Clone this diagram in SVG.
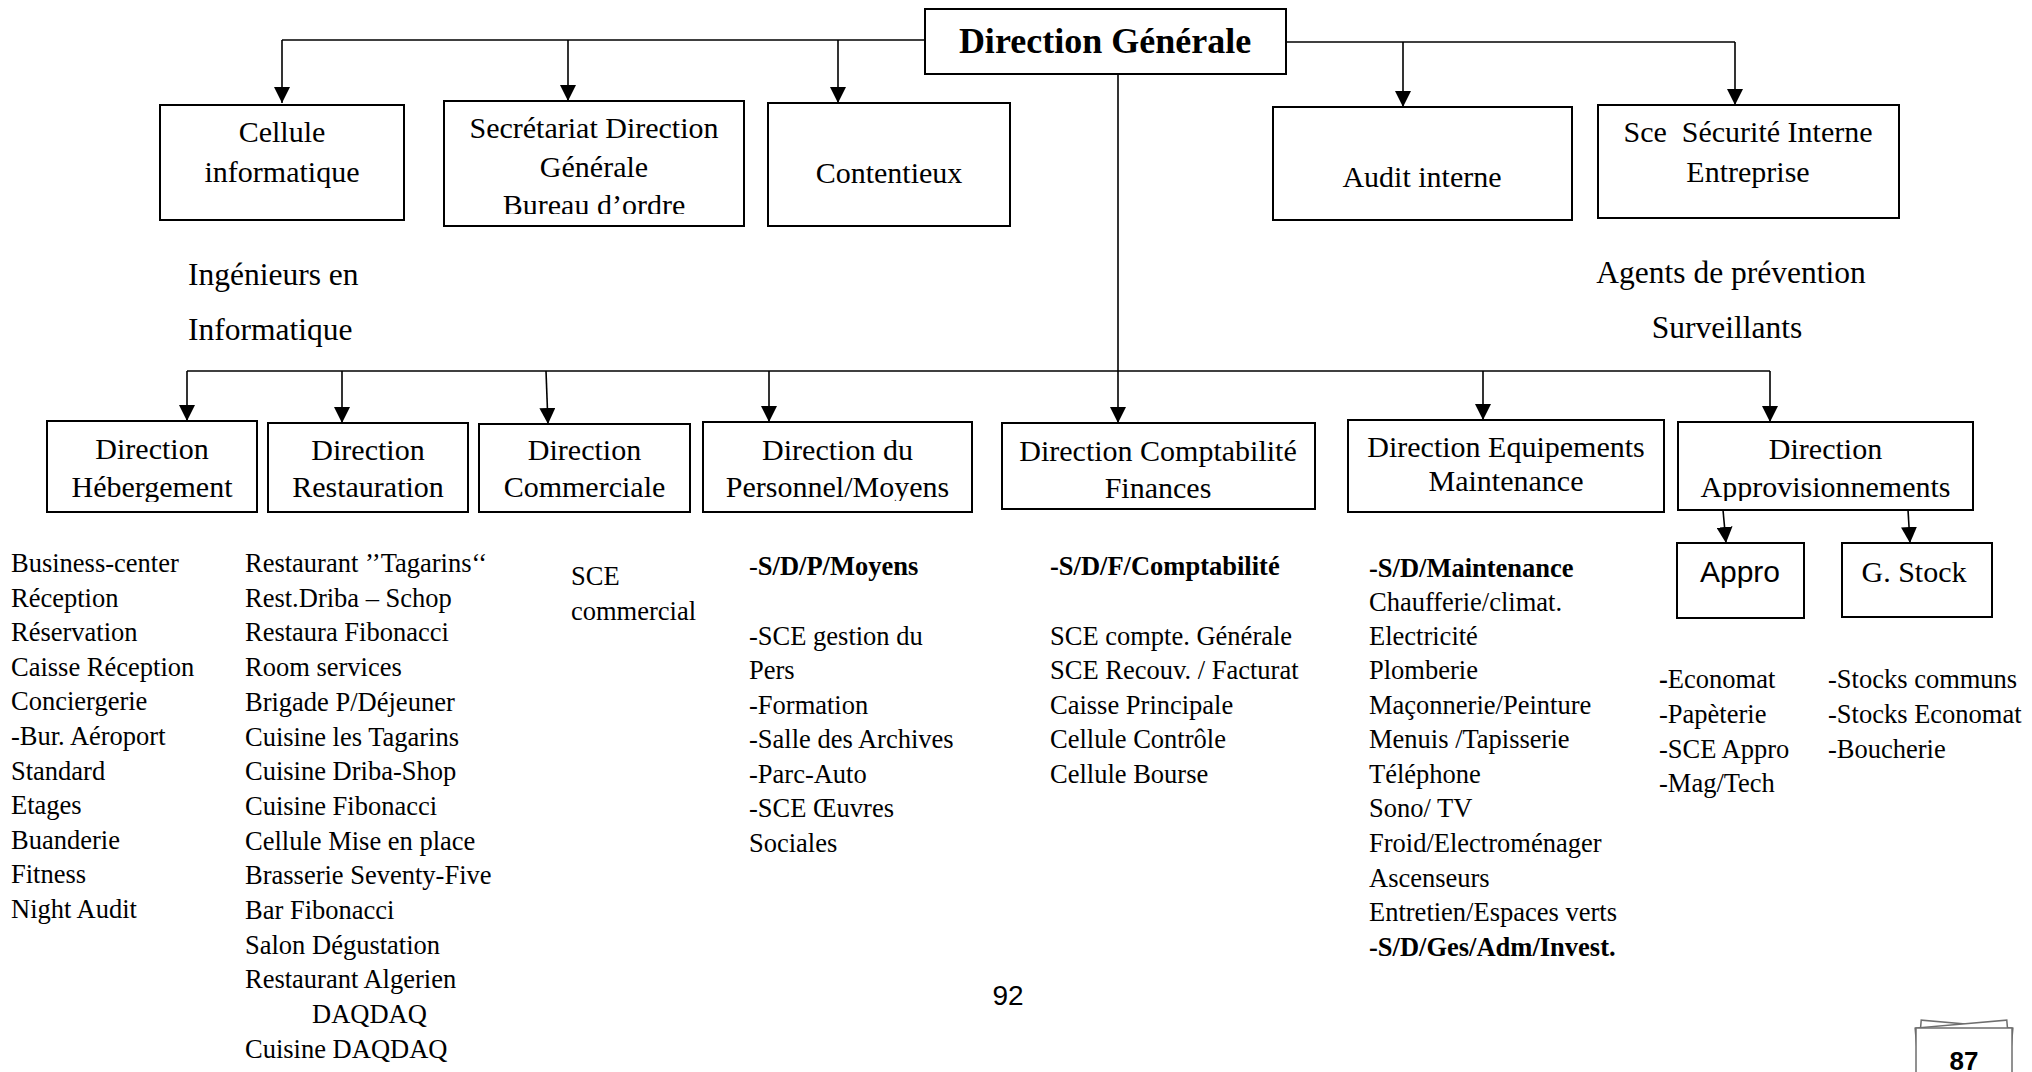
<svg xmlns="http://www.w3.org/2000/svg" width="2032" height="1072" viewBox="0 0 2032 1072">
  <style>
    .box { fill: #fff; stroke: #000; stroke-width: 2; }
    .conn { fill: none; stroke: #000; stroke-width: 1.6; }
    .t { font-family: "Liberation Serif", "Times New Roman", serif; font-size: 30px; text-anchor: middle; fill: #000; }
    .dg { font-weight: bold; font-size: 36px; }
    .lab { font-family: "Liberation Serif", "Times New Roman", serif; font-size: 31.5px; fill: #000; }
    .li { font-family: "Liberation Serif", "Times New Roman", serif; font-size: 26.5px; fill: #000; }
    .b { font-weight: bold; }
    .n { font-weight: normal; }
    .sans { font-family: "Liberation Sans", Arial, sans-serif; }
    .sheet { fill: #fff; stroke: #6e6e6e; stroke-width: 1.5; }
  </style>
  <defs>
    <marker id="arrow" viewBox="0 0 16 16" refX="16" refY="8" markerWidth="16" markerHeight="16" markerUnits="userSpaceOnUse" orient="auto">
      <path d="M0,0 L16,8 L0,16 Z" fill="#000"/>
    </marker>
    <clipPath id="clip-sec"><rect x="444" y="101" width="300" height="113"/></clipPath>
    <clipPath id="clip-heb"><rect x="47" y="421" width="210" height="81"/></clipPath>
    <clipPath id="clip-pers"><rect x="703" y="422" width="269" height="79"/></clipPath>
    <clipPath id="clip-appr"><rect x="1678" y="422" width="295" height="79"/></clipPath>
  </defs>

  <rect width="2032" height="1072" fill="#fff"/>

  <!-- connectors -->
  <g id="connectors" class="conn">
    <path d="M925,40 H282"/>
    <path d="M1286,42 H1735"/>
    <path d="M282,40 V103" marker-end="url(#arrow)"/>
    <path d="M568,40 V101" marker-end="url(#arrow)"/>
    <path d="M838,40 V103" marker-end="url(#arrow)"/>
    <path d="M1403,42 V107" marker-end="url(#arrow)"/>
    <path d="M1735,42 V105" marker-end="url(#arrow)"/>
    <path d="M1118,74 V423" marker-end="url(#arrow)"/>
    <path d="M187,371 H1770"/>
    <path d="M187,371 V421" marker-end="url(#arrow)"/>
    <path d="M342,371 V423" marker-end="url(#arrow)"/>
    <path d="M546,371 L548,424" marker-end="url(#arrow)"/>
    <path d="M769,371 V422" marker-end="url(#arrow)"/>
    <path d="M1483,371 V420" marker-end="url(#arrow)"/>
    <path d="M1770,371 V422" marker-end="url(#arrow)"/>
    <path d="M1723,510 L1726,543" marker-end="url(#arrow)"/>
    <path d="M1908,510 L1910,543" marker-end="url(#arrow)"/>
  </g>

  <!-- top level -->
  <g id="direction-generale">
    <rect class="box" x="925" y="9" width="361" height="65"/>
    <text class="t dg" x="1105" y="53">Direction Générale</text>
  </g>

  <!-- attached cells -->
  <g id="cellule-informatique">
    <rect class="box" x="160" y="105" width="244" height="115"/>
    <text class="t" x="282" y="142">Cellule</text>
    <text class="t" x="282" y="182">informatique</text>
  </g>
  <g id="secretariat">
    <rect class="box" x="444" y="101" width="300" height="125"/>
    <g clip-path="url(#clip-sec)">
      <text class="t" x="594" y="138">Secrétariat Direction</text>
      <text class="t" x="594" y="177">Générale</text>
      <text class="t" x="594" y="215">Bureau d’ordre</text>
    </g>
  </g>
  <g id="contentieux">
    <rect class="box" x="768" y="103" width="242" height="123"/>
    <text class="t" x="889" y="183">Contentieux</text>
  </g>
  <g id="audit-interne">
    <rect class="box" x="1273" y="107" width="299" height="113"/>
    <text class="t" x="1422" y="187">Audit interne</text>
  </g>
  <g id="securite-interne">
    <rect class="box" x="1598" y="105" width="301" height="113"/>
    <text class="t" x="1748" y="142" xml:space="preserve">Sce  Sécurité Interne</text>
    <text class="t" x="1748" y="182">Entreprise</text>
  </g>

  <g id="staff-informatique">
    <text class="lab" x="188" y="285">Ingénieurs en</text>
    <text class="lab" x="188" y="340">Informatique</text>
  </g>
  <g id="staff-securite">
    <text class="lab" x="1731" y="283" text-anchor="middle">Agents de prévention</text>
    <text class="lab" x="1727" y="338" text-anchor="middle">Surveillants</text>
  </g>

  <!-- directions -->
  <g id="dir-hebergement">
    <rect class="box" x="47" y="421" width="210" height="91"/>
    <g clip-path="url(#clip-heb)">
      <text class="t" x="152" y="459">Direction</text>
      <text class="t" x="152" y="497">Hébergement</text>
    </g>
  </g>
  <g id="dir-restauration">
    <rect class="box" x="268" y="423" width="200" height="89"/>
    <text class="t" x="368" y="460">Direction</text>
    <text class="t" x="368" y="497">Restauration</text>
  </g>
  <g id="dir-commerciale">
    <rect class="box" x="479" y="424" width="211" height="88"/>
    <text class="t" x="584.5" y="460">Direction</text>
    <text class="t" x="584.5" y="497">Commerciale</text>
  </g>
  <g id="dir-personnel">
    <rect class="box" x="703" y="422" width="269" height="90"/>
    <g clip-path="url(#clip-pers)">
      <text class="t" x="837.5" y="460">Direction du</text>
      <text class="t" x="837.5" y="497">Personnel/Moyens</text>
    </g>
  </g>
  <g id="dir-comptabilite">
    <rect class="box" x="1002" y="423" width="313" height="86"/>
    <text class="t" x="1158" y="461">Direction Comptabilité</text>
    <text class="t" x="1158" y="498">Finances</text>
  </g>
  <g id="dir-equipements">
    <rect class="box" x="1348" y="420" width="316" height="92"/>
    <text class="t" x="1506" y="457">Direction Equipements</text>
    <text class="t" x="1506" y="491">Maintenance</text>
  </g>
  <g id="dir-approvisionnements">
    <rect class="box" x="1678" y="422" width="295" height="88"/>
    <g clip-path="url(#clip-appr)">
      <text class="t" x="1825.5" y="459">Direction</text>
      <text class="t" x="1825.5" y="497">Approvisionnements</text>
    </g>
  </g>

  <g id="appro">
    <rect class="box" x="1677" y="543" width="127" height="75"/>
    <text class="t sans" x="1740" y="582" font-size="28">Appro</text>
  </g>
  <g id="g-stock">
    <rect class="box" x="1842" y="543" width="150" height="74"/>
    <text class="t" x="1914" y="582">G. Stock</text>
  </g>

  <!-- service lists -->
  <g id="list-hebergement">
    <text class="li" x="11" y="572">Business-center</text>
    <text class="li" x="11" y="607">Réception</text>
    <text class="li" x="11" y="641">Réservation</text>
    <text class="li" x="11" y="676">Caisse Réception</text>
    <text class="li" x="11" y="710">Conciergerie</text>
    <text class="li" x="11" y="745">-Bur. Aéroport</text>
    <text class="li" x="11" y="780">Standard</text>
    <text class="li" x="11" y="814">Etages</text>
    <text class="li" x="11" y="849">Buanderie</text>
    <text class="li" x="11" y="883">Fitness</text>
    <text class="li" x="11" y="918">Night Audit</text>
  </g>
  <g id="list-restauration">
    <text class="li" x="245" y="572">Restaurant ’’Tagarins‘‘</text>
    <text class="li" x="245" y="607">Rest.Driba – Schop</text>
    <text class="li" x="245" y="641">Restaura Fibonacci</text>
    <text class="li" x="245" y="676">Room services</text>
    <text class="li" x="245" y="711">Brigade P/Déjeuner</text>
    <text class="li" x="245" y="746">Cuisine les Tagarins</text>
    <text class="li" x="245" y="780">Cuisine Driba-Shop</text>
    <text class="li" x="245" y="815">Cuisine Fibonacci</text>
    <text class="li" x="245" y="850">Cellule Mise en place</text>
    <text class="li" x="245" y="884">Brasserie Seventy-Five</text>
    <text class="li" x="245" y="919">Bar Fibonacci</text>
    <text class="li" x="245" y="954">Salon Dégustation</text>
    <text class="li" x="245" y="988">Restaurant Algerien</text>
    <text class="li" x="312" y="1023">DAQDAQ</text>
    <text class="li" x="245" y="1058">Cuisine DAQDAQ</text>
  </g>
  <g id="list-commerciale">
    <text class="li" x="571" y="585">SCE</text>
    <text class="li" x="571" y="620">commercial</text>
  </g>
  <g id="list-personnel">
    <text class="li b" x="749" y="575"><tspan class="n">-</tspan>S/D/P/Moyens</text>
    <text class="li" x="749" y="645">-SCE gestion du</text>
    <text class="li" x="749" y="679">Pers</text>
    <text class="li" x="749" y="714">-Formation</text>
    <text class="li" x="749" y="748">-Salle des Archives</text>
    <text class="li" x="749" y="783">-Parc-Auto</text>
    <text class="li" x="749" y="817">-SCE Œuvres</text>
    <text class="li" x="749" y="852">Sociales</text>
  </g>
  <g id="list-comptabilite">
    <text class="li b" x="1050" y="575">-S/D/F/Comptabilité</text>
    <text class="li" x="1050" y="645">SCE compte. Générale</text>
    <text class="li" x="1050" y="679">SCE Recouv. / Facturat</text>
    <text class="li" x="1050" y="714">Caisse Principale</text>
    <text class="li" x="1050" y="748">Cellule Contrôle</text>
    <text class="li" x="1050" y="783">Cellule Bourse</text>
  </g>
  <g id="list-maintenance">
    <text class="li b" x="1369" y="577">-S/D/Maintenance</text>
    <text class="li" x="1369" y="611">Chaufferie/climat.</text>
    <text class="li" x="1369" y="645">Electricité</text>
    <text class="li" x="1369" y="679">Plomberie</text>
    <text class="li" x="1369" y="714">Maçonnerie/Peinture</text>
    <text class="li" x="1369" y="748">Menuis /Tapisserie</text>
    <text class="li" x="1369" y="783">Téléphone</text>
    <text class="li" x="1369" y="817">Sono/ TV</text>
    <text class="li" x="1369" y="852">Froid/Electroménager</text>
    <text class="li" x="1369" y="887">Ascenseurs</text>
    <text class="li" x="1369" y="921">Entretien/Espaces verts</text>
    <text class="li b" x="1369" y="956">-S/D/Ges/Adm/Invest.</text>
  </g>
  <g id="list-appro">
    <text class="li" x="1659" y="688"><tspan class="b">-</tspan>Economat</text>
    <text class="li" x="1659" y="723">-Papèterie</text>
    <text class="li" x="1659" y="758">-SCE Appro</text>
    <text class="li" x="1659" y="792">-Mag/Tech</text>
  </g>
  <g id="list-stock">
    <text class="li" x="1828" y="688">-Stocks communs</text>
    <text class="li" x="1828" y="723">-Stocks Economat</text>
    <text class="li" x="1828" y="758">-Boucherie</text>
  </g>

  <!-- page numbers -->
  <text class="sans" x="1008" y="1005" font-size="28" text-anchor="middle">92</text>
  <g id="page-badge">
    <rect class="sheet" x="1918" y="1024" width="92" height="70" transform="rotate(5 1964 1059)"/>
    <rect class="sheet" x="1918" y="1024" width="92" height="70" transform="rotate(-5 1964 1059)"/>
    <rect class="sheet" x="1916" y="1028" width="96" height="60"/>
    <text class="sans" x="1964" y="1070" font-size="26" font-weight="bold" text-anchor="middle">87</text>
  </g>
</svg>
